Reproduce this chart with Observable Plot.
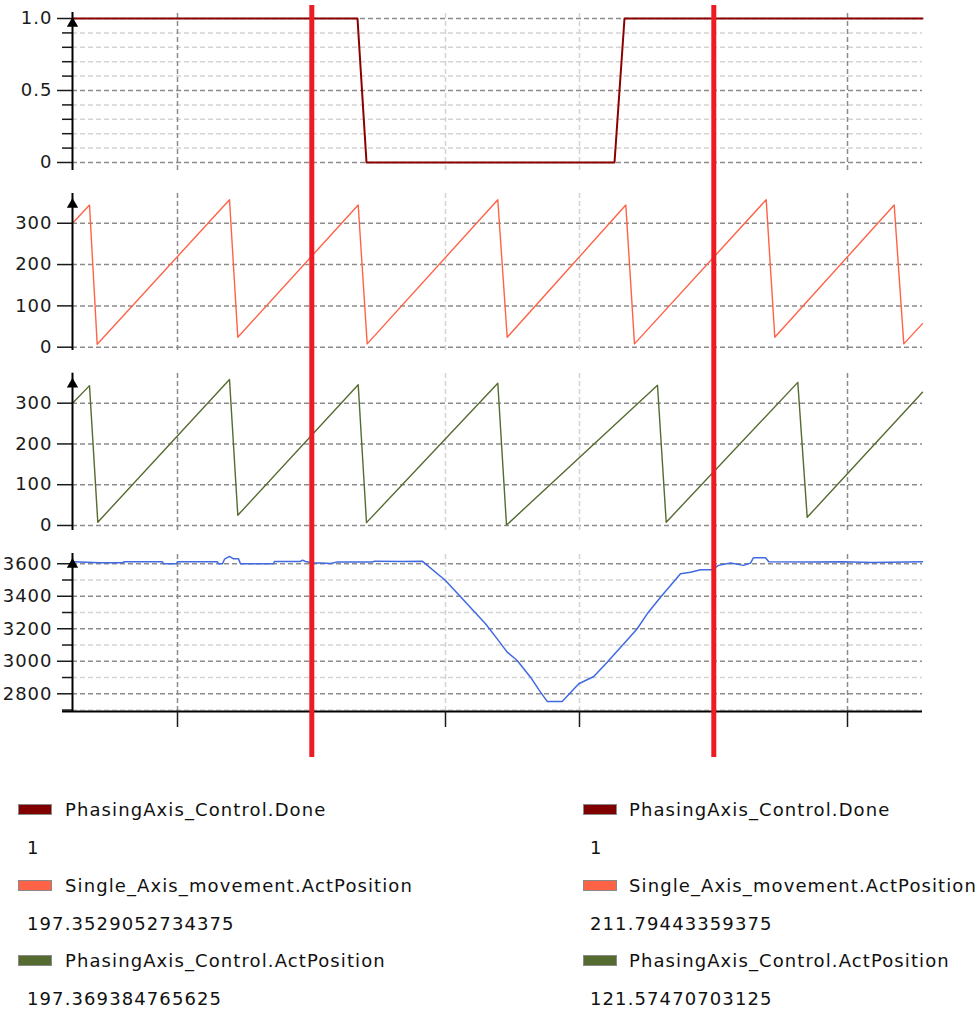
<!DOCTYPE html>
<html><head><meta charset="utf-8">
<script src="https://cdn.jsdelivr.net/npm/d3@7"></script>
<script src="https://cdn.jsdelivr.net/npm/@observablehq/plot@0.6"></script>
<style>
body{margin:0;background:#fff;}
#wrap{position:relative;width:979px;height:1012px;overflow:hidden;font-family:"DejaVu Sans",sans-serif;color:#1a1a1a;}
#wrap svg{position:absolute;left:0;top:0;}
#wrap svg text{letter-spacing:1px;}
.leg{position:absolute;font-size:18px;letter-spacing:1.1px;color:#111;white-space:nowrap;line-height:18px;}
.sw{position:absolute;width:32px;height:9px;border:1px solid #8a8a8a;}
</style></head><body><div id="wrap"></div>
<script>
// time axis: sample index 0..850
const xDomain = [0, 850];
const xTicks = [105, 239, 373, 507, 641, 775];
const xGridDark = [105, 775];
const xGridLight = [239, 373, 507, 641];
const cursorT = [239.3, 641.3];

// series [t, value]
const doneSeries = [[0,1],[285,1],[294,0],[542,0],[552,1],[850,1]];
const singleAxisSeries = [[0,300],[17,344],[24.7,7],[157,357],[165.3,24],[285.7,344],[294.7,8],[425.3,357],[434.7,24],[553.3,344],[562,8],[693.7,357],[702.3,24],[821.7,344],[831.3,8],[850,57]];
const phasingSeries = [[0,300],[17,343],[25.3,8],[157,358],[165.3,25],[285.7,345],[294,7],[425.3,349],[434,1],[585,344],[593.7,8],[725.3,351],[734.7,20],[850,327]];
const phasingDiffSeries = [[0,3612],[28,3606],[50,3606],[52,3612],[90,3612],[91,3600],[104,3600],[105,3612],[145,3612],[146,3600],[150,3600],[152,3628],[157,3645],[161,3630],[166,3630],[168,3600],[201,3600],[202,3614],[228,3614],[230,3622],[233,3614],[240,3604],[248,3604],[258,3602],[264,3610],[300,3610],[302,3616],[330,3614],[349.7,3616],[373,3497],[413,3231],[424.7,3138],[434.7,3056],[444.7,3005],[458,2902],[468,2810],[474.7,2753],[489.7,2753],[506.3,2862],[521.3,2906],[534.7,2994],[551.3,3108],[564.7,3200],[574.7,3292],[588,3394],[608,3538],[618,3548],[628,3563],[639.7,3563],[646,3590],[658,3604],[671,3590],[678,3604],[681,3637],[693,3637],[696.3,3612],[740,3610],[770,3612],[800,3608],[850,3612]];

// axis ticks
const doneMajor = [0, 0.5, 1];
const doneMinor = [0.1,0.2,0.3,0.4,0.6,0.7,0.8,0.9];
const posMajor = [0, 100, 200, 300];
const diffMajor = [2800, 3000, 3200, 3400, 3600];
const diffMinor = [2700, 2900, 3100, 3300, 3500];

// legend
const legendNames = ["PhasingAxis_Control.Done", "Single_Axis_movement.ActPosition", "PhasingAxis_Control.ActPosition"];
const legendColors = ["#800000", "#FF6347", "#556B2F"];
const cursor1Values = ["1", "197.3529052734375", "197.369384765625"];
const cursor2Values = ["1", "211.79443359375", "121.57470703125"];

const gridDark = "#8c8c8c", gridLight = "#d4d4d4";
const panels = [
  {data: doneSeries, color: "#8B0000", sw: 2, domain: [-0.0556, 1.0417], range: [170, 12], major: doneMajor, minor: doneMinor, fmt: d => d === 0 ? "0" : d.toFixed(1)},
  {data: singleAxisSeries, color: "#FF6347", sw: 1.4, domain: [-8, 372], range: [350, 193], major: posMajor, minor: [], fmt: d => String(d)},
  {data: phasingSeries, color: "#556B2F", sw: 1.4, domain: [-12.3, 373.5], range: [530, 372.7], major: posMajor, minor: [], fmt: d => String(d)},
  {data: phasingDiffSeries, color: "#4169E1", sw: 1.5, domain: [2691, 3663], range: [711, 553], major: diffMajor, minor: diffMinor, fmt: d => String(d), last: true}
];

const wrap = document.getElementById("wrap");

panels.forEach(p => {
  const lo = p.domain[0], hi = p.domain[1];
  const dash = {strokeWidth: 1.5, strokeDasharray: "5,3"};
  const marks = [
    Plot.ruleY(p.minor, {y: d => d, x1: d => 0, x2: d => 850, stroke: gridLight, ...dash}),
    Plot.ruleY(p.major, {y: d => d, x1: d => 0, x2: d => 850, stroke: gridDark, ...dash}),
    Plot.ruleX(xGridLight, {x: d => d, y1: d => lo, y2: d => hi, stroke: gridLight, ...dash}),
    Plot.ruleX(xGridDark, {x: d => d, y1: d => lo, y2: d => hi, stroke: gridDark, ...dash}),
    Plot.line(p.data, {x: d => d[0], y: d => d[1], stroke: p.color, strokeWidth: p.sw}),
    Plot.axisY(p.minor, {tickSize: 10, tickFormat: () => "", strokeWidth: 1.5}),
    Plot.axisY(p.major, {tickSize: 15, tickPadding: 5, tickFormat: p.fmt, strokeWidth: 1.5, fontSize: 18}),
    Plot.ruleX([0], {x: d => d, y1: d => lo, y2: d => hi, stroke: "black", strokeWidth: 2}),
    Plot.dot([hi], {x: d => 0, y: d => d, symbol: "triangle", r: 4.2, fill: "black", dy: 11})
  ];
  if (p.last) {
    marks.push(Plot.ruleY([lo], {y: d => d, x1: d => -10, x2: d => 850, stroke: "black", strokeWidth: 2}));
    marks.push(Plot.axisX(xTicks, {tickSize: 16, tickFormat: () => "", strokeWidth: 1.5}));
  }
  const svg = Plot.plot({
    width: 979, height: 760,
    marginLeft: 72, marginRight: 57, marginTop: 0, marginBottom: 49,
    x: {domain: xDomain, ...(p.last ? {} : {axis: null})},
    y: {domain: p.domain, range: p.range, label: null},
    style: {background: "transparent", fontFamily: "DejaVu Sans", fontSize: "18px", color: "#1a1a1a", overflow: "visible"},
    marks
  });
  wrap.appendChild(svg);
});

// cursors
wrap.appendChild(Plot.plot({
  width: 979, height: 760,
  marginLeft: 72, marginRight: 57, marginTop: 5, marginBottom: 3,
  x: {domain: xDomain, axis: null},
  style: {background: "transparent", overflow: "visible"},
  marks: [Plot.ruleX(cursorT, {stroke: "#ED1C24", strokeWidth: 5})]
}));

// legend
const rowBase = [816, 892, 967];
const valBase = [854, 930, 1005];
function addCol(swX, textX, valX, values) {
  legendNames.forEach((name, i) => {
    const sw = document.createElement("div");
    sw.className = "sw";
    sw.style.left = swX + "px"; sw.style.top = (rowBase[i] - 12) + "px";
    sw.style.background = legendColors[i];
    wrap.appendChild(sw);
    const t = document.createElement("div");
    t.className = "leg"; t.textContent = name;
    t.style.left = textX + "px"; t.style.top = (rowBase[i] - 15) + "px";
    wrap.appendChild(t);
    const v = document.createElement("div");
    v.className = "leg"; v.textContent = values[i];
    v.style.left = valX + "px"; v.style.top = (valBase[i] - 15) + "px";
    wrap.appendChild(v);
  });
}
addCol(18, 65, 27, cursor1Values);
addCol(583, 629, 590, cursor2Values);
</script>
</body></html>
